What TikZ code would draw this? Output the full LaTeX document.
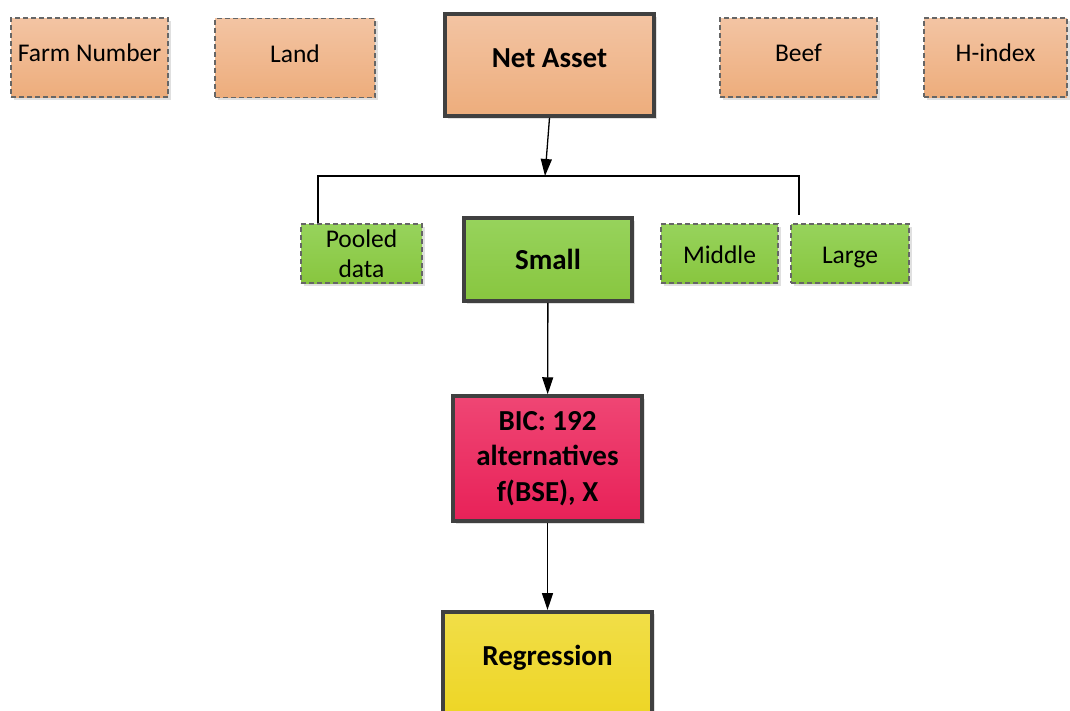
\documentclass[tikz,border=0pt]{standalone}
\usepackage{fontspec}
\setmainfont{Carlito}
\usetikzlibrary{arrows.meta, shadows}

\definecolor{orangetop}{HTML}{F3C4A3}
\definecolor{orangebot}{HTML}{EDAD7C}
\definecolor{greentop}{HTML}{97D35C}
\definecolor{greenbot}{HTML}{88C63F}
\definecolor{bictop}{HTML}{EF4674}
\definecolor{bicbot}{HTML}{E82158}
\definecolor{regtop}{HTML}{F1DE48}
\definecolor{regbot}{HTML}{EDD523}

\begin{document}
\begin{tikzpicture}[x=1pt, y=-1pt, >={Triangle[length=17pt,width=11pt]}]
		\tikzstyle{boxshadow}=[
		drop shadow={shadow xshift=2.5pt, shadow yshift=-2.5pt, fill=black, opacity=0.12}
		]
		\tikzstyle{factor}=[
		boxshadow,
		draw=black!60,
		dash pattern=on 5pt off 3pt,
		line width=1.3pt,
		align=center,
		font=\fontsize{25.5}{30}\selectfont
		]
		\tikzstyle{input}=[
		factor,
		top color=orangetop,
		bottom color=orangebot,
		minimum height=79pt,
		text depth=9pt
		]
		\tikzstyle{group}=[
		factor,
		top color=greentop,
		bottom color=greenbot,
		minimum height=59pt
		]
		\tikzstyle{mainbox}=[
		boxshadow,
		draw=black!75,
		line width=3.5pt,
		align=center,
		font=\bfseries\fontsize{29}{35.5}\selectfont
		]
		\tikzstyle{link}=[line width=1.3pt]
		\useasboundingbox (0,0) rectangle (1070,710);
		% input variables
		\node[input, minimum width=157pt] (farm) at (89.5,57.5) {Farm Number};
		\node[input, minimum width=160pt] (land) at (295,58) {Land};
		\node[mainbox, top color=orangetop, bottom color=orangebot, text depth=14pt,
		minimum width=209pt, minimum height=102pt] (net) at (549.5,65) {Net Asset};
		\node[input, minimum width=157pt] (beef) at (798.5,57.5) {Beef};
		\node[input, minimum width=143pt] (hindex) at (995.5,57.5) {H-index};
		% farm size groups
		\node[group, minimum width=121pt] (pooled) at (361.5,253.5) {Pooled\\data};
		\node[mainbox, top color=greentop, bottom color=greenbot,
		minimum width=168pt, minimum height=83pt] (small) at (548,259.5) {Small};
		\node[group, minimum width=117pt, text height=21pt] (middle) at (719.5,253.5) {Middle};
		\node[group, minimum width=118pt, text height=25pt] (large) at (850,253.5) {Large};
		% model selection
		\node[mainbox, top color=bictop, bottom color=bicbot,
		minimum width=189pt, minimum height=125pt] (bic) at (547.5,458.5) {BIC: 192\\alternatives\\f(BSE), X};
		\node[mainbox, top color=regtop, bottom color=regbot, inner sep=0pt,
		minimum width=209pt, text height=54pt, text depth=56pt, anchor=north] (regression) at (547.5,610) {Regression};
		%
		\coordinate (bus) at (545,176);
		\coordinate (busL) at (318,176);
		\coordinate (busR) at (799,176);
		\coordinate (endR) at (799,215);
		\draw[link, ->] (net.south) -- (bus);
		\draw[link] (busL |- pooled.north) -- (busL) -- (busR) -- (endR);
		\draw[link, ->] (small) -- (bic);
		\draw[link, ->] (bic) -- (regression);
\end{tikzpicture}
\end{document}
